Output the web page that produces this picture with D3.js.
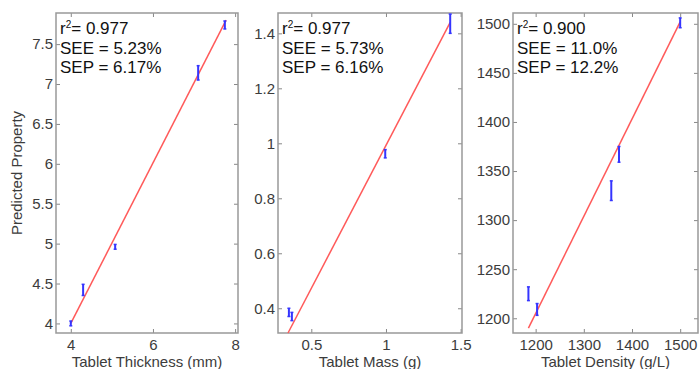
<!DOCTYPE html>
<html>
<head>
<meta charset="utf-8">
<script src="https://cdn.jsdelivr.net/npm/d3@7"></script>
<style>
  body { margin: 0; background: #fff; }
  svg { font-family: "Liberation Sans", Arial, sans-serif; }
</style>
</head>
<body>
<div id="chart"></div>
<script>
// measured vs predicted, one array per panel
let thicknessX = [4.0, 4.3, 5.08, 7.1, 7.75],
    thicknessY = [4.0, 4.42, 4.96, 7.14, 7.74],
    thicknessErr = [0.03, 0.07, 0.03, 0.09, 0.05];

let massX = [0.35, 0.37, 0.995, 1.43],
    massY = [0.385, 0.37, 0.962, 1.435],
    massErr = [0.015, 0.015, 0.015, 0.035];

let densityX = [1185, 1203, 1357, 1373, 1500],
    densityY = [1225, 1209, 1330, 1367, 1501],
    densityErr = [7, 6, 10, 8, 5];

// regression lines (endpoints)
let thicknessFit = [[4.0, 4.0], [7.78, 7.8]],
    massFit = [[0.344, 0.31], [1.43, 1.44]],
    densityFit = [[1185, 1190], [1500, 1502]];

let thicknessStats = ["0.977", "5.23%", "6.17%"],
    massStats = ["0.977", "5.73%", "6.16%"],
    densityStats = ["0.900", "11.0%", "12.2%"];

let thicknessXTicks = [4, 6, 8], thicknessYTicks = [4, 4.5, 5, 5.5, 6, 6.5, 7, 7.5];
let massXTicks = [0.5, 1, 1.5], massYTicks = [0.4, 0.6, 0.8, 1, 1.2, 1.4];
let densityXTicks = [1200, 1300, 1400, 1500], densityYTicks = [1200, 1250, 1300, 1350, 1400, 1450, 1500];

let panels = [
  {x: thicknessX, y: thicknessY, err: thicknessErr, fit: thicknessFit, stats: thicknessStats,
   xTicks: thicknessXTicks, yTicks: thicknessYTicks, xDomain: [3.64, 8.07], yDomain: [3.88, 7.89],
   left: 56, right: 238, xLabel: "Tablet Thickness (mm)", yLabel: "Predicted Property"},
  {x: massX, y: massY, err: massErr, fit: massFit, stats: massStats,
   xTicks: massXTicks, yTicks: massYTicks, xDomain: [0.277, 1.509], yDomain: [0.31, 1.474],
   left: 278, right: 462, xLabel: "Tablet Mass (g)"},
  {x: densityX, y: densityY, err: densityErr, fit: densityFit, stats: densityStats,
   xTicks: densityXTicks, yTicks: densityYTicks, xDomain: [1153, 1537], yDomain: [1185, 1511],
   left: 513, right: 698, xLabel: "Tablet Density (g/L)"}
];

let plotTop = 13, plotBottom = 333;

let svg = d3.select("#chart")
  .append("svg")
    .attr("width", 699)
    .attr("height", 369);

panels.forEach(function(p) {
  let x = d3.scaleLinear().domain(p.xDomain).range([p.left, p.right]);
  let y = d3.scaleLinear().domain(p.yDomain).range([plotBottom, plotTop]);
  let w = p.right - p.left, h = plotBottom - plotTop;

  let g = svg.append("g");

  g.append("rect")
    .attr("x", p.left).attr("y", plotTop)
    .attr("width", w).attr("height", h)
    .attr("fill", "#fff");

  // axes with inward ticks on all four sides (matlab box)
  let axB = g.append("g").attr("transform", "translate(0," + plotBottom + ")")
    .call(d3.axisBottom(x).tickValues(p.xTicks).tickSize(-4).tickPadding(6).tickFormat(d3.format("")));
  let axT = g.append("g").attr("transform", "translate(0," + plotTop + ")")
    .call(d3.axisTop(x).tickValues(p.xTicks).tickSize(-4).tickFormat(""));
  let axL = g.append("g").attr("transform", "translate(" + p.left + ",0)")
    .call(d3.axisLeft(y).tickValues(p.yTicks).tickSize(-4).tickPadding(3).tickFormat(d3.format("")));
  let axR = g.append("g").attr("transform", "translate(" + p.right + ",0)")
    .call(d3.axisRight(y).tickValues(p.yTicks).tickSize(-4).tickFormat(""));

  [axB, axT, axL, axR].forEach(function(a) {
    a.select(".domain").remove();
    a.selectAll("line").attr("stroke", "#888");
    a.selectAll("text").attr("fill", "#3c3c3c").style("font-size", "15px");
  });

  g.append("rect")
    .attr("x", p.left).attr("y", plotTop)
    .attr("width", w).attr("height", h)
    .attr("fill", "none")
    .attr("stroke", "#999")
    .attr("stroke-width", 1.5);

  // fit line
  g.append("line")
    .attr("x1", x(p.fit[0][0])).attr("y1", y(p.fit[0][1]))
    .attr("x2", x(p.fit[1][0])).attr("y2", y(p.fit[1][1]))
    .attr("stroke", "#ff5a5a")
    .attr("stroke-width", 1.5);

  // error bars
  let pts = p.x.map(function(d, i) { return {x: d, y: p.y[i], e: p.err[i]}; });
  let eb = g.selectAll(".eb").data(pts).enter().append("g");
  eb.append("line")
    .attr("x1", d => x(d.x)).attr("x2", d => x(d.x))
    .attr("y1", d => y(d.y - d.e)).attr("y2", d => y(d.y + d.e))
    .attr("stroke", "#3535ff").attr("stroke-width", 2);
  eb.append("line")
    .attr("x1", d => x(d.x) - 1.5).attr("x2", d => x(d.x) + 1.5)
    .attr("y1", d => y(d.y - d.e)).attr("y2", d => y(d.y - d.e))
    .attr("stroke", "#3535ff").attr("stroke-width", 1.5);
  eb.append("line")
    .attr("x1", d => x(d.x) - 1.5).attr("x2", d => x(d.x) + 1.5)
    .attr("y1", d => y(d.y + d.e)).attr("y2", d => y(d.y + d.e))
    .attr("stroke", "#3535ff").attr("stroke-width", 1.5);

  // stats text
  let tx = p.left + 4;
  let t1 = g.append("text").attr("x", tx).attr("y", 34)
    .attr("fill", "#111").style("font-size", "17px");
  t1.append("tspan").text("r");
  t1.append("tspan").attr("dy", -6).style("font-size", "10px").text("2");
  t1.append("tspan").attr("dy", 6).text("= " + p.stats[0]);
  g.append("text").attr("x", tx).attr("y", 54)
    .attr("fill", "#111").style("font-size", "17px")
    .text("SEE = " + p.stats[1]);
  g.append("text").attr("x", tx).attr("y", 73)
    .attr("fill", "#111").style("font-size", "17px")
    .text("SEP = " + p.stats[2]);

  // axis titles
  g.append("text")
    .attr("x", (p.left + p.right) / 2)
    .attr("y", 367)
    .attr("text-anchor", "middle")
    .attr("fill", "#3c3c3c")
    .style("font-size", "15px")
    .text(p.xLabel);

  if (p.yLabel) {
    g.append("text")
      .attr("transform", "translate(22," + (plotTop + h / 2) + ") rotate(-90)")
      .attr("text-anchor", "middle")
      .attr("fill", "#3c3c3c")
      .style("font-size", "15px")
      .text(p.yLabel);
  }
});
</script>
</body>
</html>
